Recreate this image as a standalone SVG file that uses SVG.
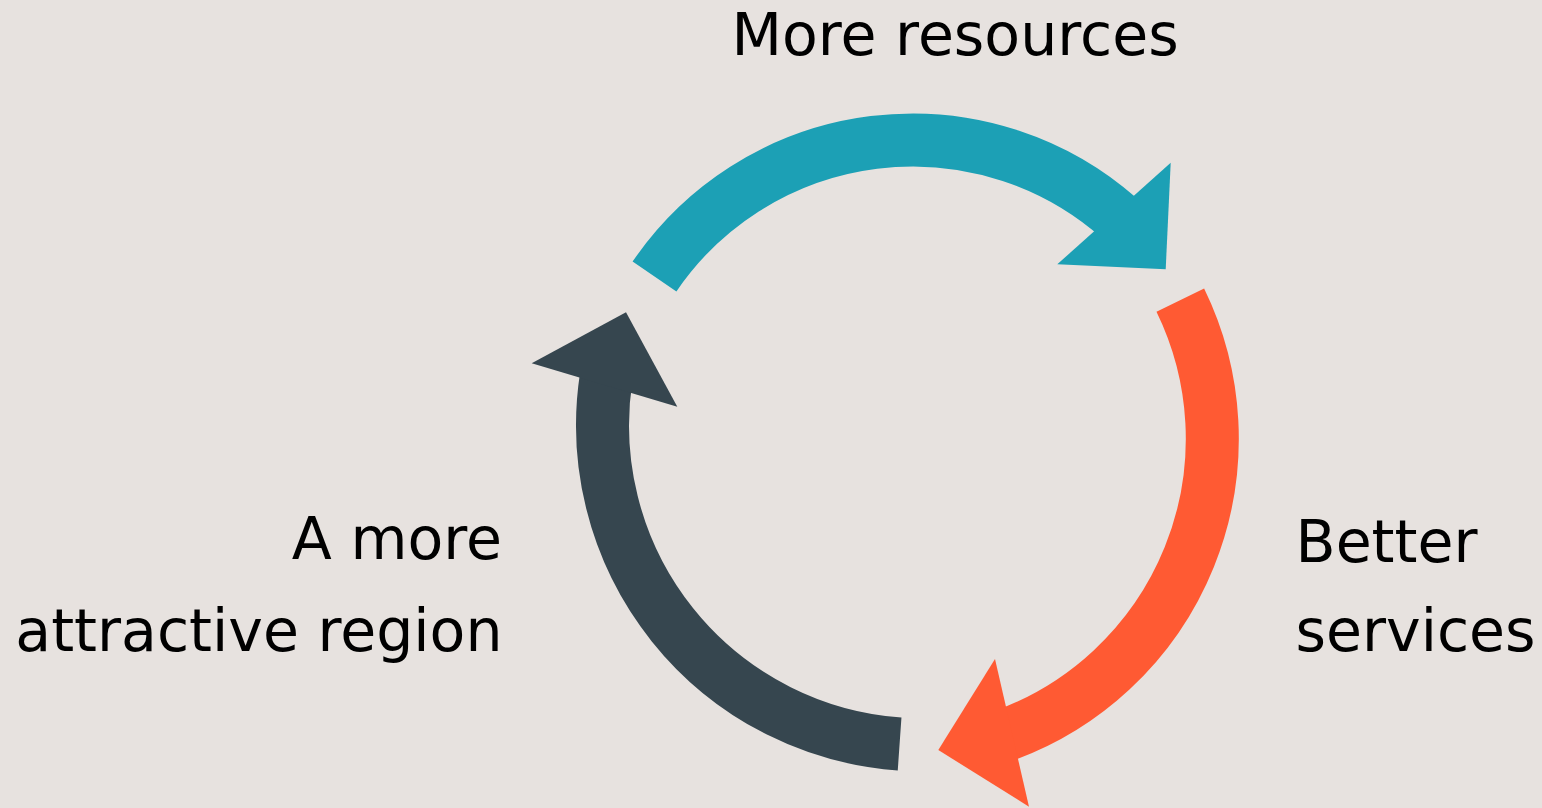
<svg xmlns="http://www.w3.org/2000/svg" width="1542" height="808" viewBox="0 0 1542 808">
<style>
.lbl{font-family:"DejaVu Sans","Verdana",sans-serif;font-size:58.5px;fill:#000}
.shaft{fill:none;stroke-width:53;stroke-linecap:butt}
.teal{stroke:#1CA0B5}.tealf{fill:#1CA0B5}
.orng{stroke:#FF5A33}.orngf{fill:#FF5A33}
.dark{stroke:#36464F}.darkf{fill:#36464F}
</style>
<rect width="1542" height="808" fill="#E7E2DF"/>
<g id="connectors">
<g id="arrow-resources-to-services">
<path class="shaft teal" d="M654.5,276.5 A312.3,312.3 0 0 1 1119.6,218.4"/>
<polygon class="tealf" points="1170.7,162.7 1165.7,269.3 1057.3,264.3"/>
</g>
<g id="arrow-services-to-region">
<path class="shaft orng" d="M1180.3,300.1 A315.9,315.9 0 0 1 1004.4,735.5"/>
<polygon class="orngf" points="995,659 938.3,750 1029,806.7"/>
</g>
<g id="arrow-region-to-resources">
<path class="shaft dark" d="M899.6,744 A319.4,319.4 0 0 1 606.2,377.1"/>
<polygon class="darkf" points="531.7,363.3 626,312.3 677.3,406.7"/>
</g>
</g>
<g id="node-resources"><text class="lbl" x="731.5" y="54.5">More resources</text></g>
<g id="node-services"><text class="lbl" x="1295.5" y="561.7">Better</text><text class="lbl" x="1295.5" y="650.5">services</text></g>
<g id="node-region"><text class="lbl" x="502" y="558.5" text-anchor="end">A more</text><text class="lbl" x="502.5" y="650.5" text-anchor="end">attractive region</text></g>
</svg>
